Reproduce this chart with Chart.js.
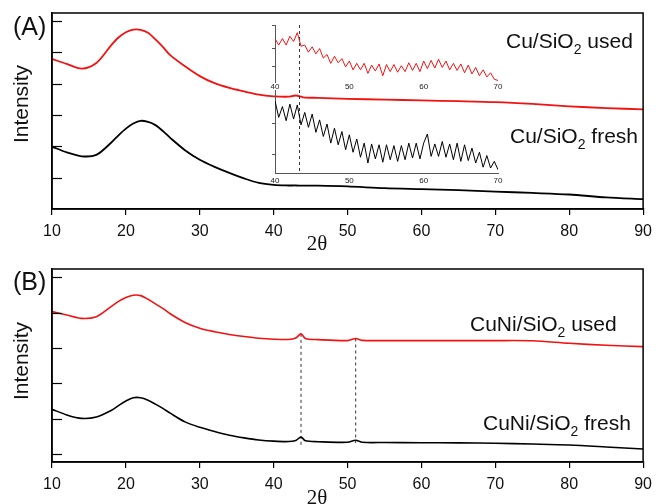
<!DOCTYPE html>
<html>
<head>
<meta charset="utf-8">
<title>XRD patterns</title>
<script src="https://cdn.jsdelivr.net/npm/chart.js@4.4.1/dist/chart.umd.min.js"></script>
<style>
  html, body { margin: 0; padding: 0; background: #fff; }
  #wrap { position: relative; width: 659px; height: 504px; overflow: hidden; }
  #wrap canvas { position: absolute; }
</style>
</head>
<body>
<div id="wrap">
  <canvas id="chart-a" width="659" height="255" style="left:0px;top:0px"></canvas>
  <canvas id="chart-b" width="659" height="249" style="left:0px;top:255px"></canvas>
  <canvas id="inset-used" width="258" height="76" style="left:250px;top:18px"></canvas>
  <canvas id="inset-fresh" width="258" height="105" style="left:250px;top:83px"></canvas>
</div>
<script>
/* ---------- data ---------- */

// (A) Cu/SiO2
const THETA_A = [10, 12, 14, 16, 18, 19, 20, 21, 22, 23, 24, 25, 26, 28, 30, 32, 34, 36, 38, 40, 42, 43, 44, 46, 50, 55, 60, 65, 70, 75, 80, 85, 90];
const CU_USED = [76.6, 74.0, 71.6, 74.5, 83.5, 87.5, 90.2, 91.5, 91.4, 89.9, 86.5, 82.7, 78.5, 72.8, 67.8, 64.2, 61.8, 60.0, 58.3, 57.5, 57.3, 57.9, 57.0, 56.7, 56.2, 55.8, 55.4, 55.0, 54.5, 53.6, 52.4, 51.5, 50.8];
const CU_FRESH = [31.8, 28.9, 26.9, 27.6, 33.8, 37.6, 41.0, 43.6, 45.0, 44.4, 42.8, 39.8, 36.3, 30.0, 25.1, 21.5, 18.4, 15.6, 13.3, 12.3, 12.0, 12.0, 11.9, 11.9, 11.5, 10.6, 10.1, 9.6, 8.9, 8.2, 7.4, 5.9, 5.0];
const Y_TICKS_A = [16, 32, 48, 64, 80, 96];

// (A) inset, 40-70 deg enlarged
const THETA_INSET = [40, 40.5, 41, 41.5, 42, 42.5, 43, 43.5, 44, 44.5, 45, 45.5, 46, 46.5, 47, 47.5, 48, 48.5, 49, 49.5,
  50, 50.5, 51, 51.5, 52, 52.5, 53, 53.5, 54, 54.5, 55, 55.5, 56, 56.5, 57, 57.5, 58, 58.5, 59, 59.5,
  60, 60.5, 61, 61.5, 62, 62.5, 63, 63.5, 64, 64.5, 65, 65.5, 66, 66.5, 67, 67.5, 68, 68.5, 69, 69.5, 70];
const INSET_USED = [77, 66, 77, 66, 81, 72, 87, 64, 66, 54, 63, 51, 60, 44, 50, 35, 47, 36, 43, 29,
  39, 24, 35, 24, 35, 18, 32, 22, 34, 14, 33, 21, 33, 20, 31, 21, 36, 23, 35, 21,
  39, 26, 40, 27, 42, 28, 39, 24, 35, 23, 34, 19, 32, 17, 28, 14, 24, 12, 19, 8, 6];
const INSET_FRESH = [87, 67, 80, 63, 83, 65, 82, 58, 73, 55, 71, 49, 64, 44, 59, 36, 54, 34, 50, 28,
  46, 25, 41, 19, 36, 12, 35, 17, 34, 13, 34, 16, 33, 14, 33, 16, 36, 18, 36, 17,
  36, 47, 20, 35, 20, 38, 19, 35, 16, 36, 14, 34, 15, 30, 12, 25, 7, 21, 6, 14, 4];
const INSET_X_TICKS = [40, 50, 60, 70];
const INSET_USED_Y_TICKS = [29, 61, 100];
const INSET_FRESH_Y_TICKS = [22, 60];
const INSET_MARK = 43.3;

// (B) CuNi/SiO2
const THETA_B = [10, 12, 14, 16, 18, 19, 20, 21, 22, 23, 24, 25, 26, 28, 30, 32, 34, 36, 38, 40, 42, 43, 43.7, 44.3, 46, 50, 51.1, 52, 55, 60, 65, 70, 75, 80, 85, 90];
const CUNI_USED = [77.9, 76.2, 74.4, 75.3, 80.5, 83.2, 85.2, 86.4, 86.2, 84.3, 81.9, 79.6, 76.8, 72.3, 69.3, 67.5, 66.1, 65.0, 64.1, 63.6, 63.5, 64.3, 66.4, 64.0, 63.4, 62.9, 64.0, 63.0, 62.9, 62.9, 62.9, 62.9, 62.8, 61.5, 60.5, 59.8];
const CUNI_FRESH = [27.3, 24.4, 22.6, 23.3, 26.7, 29.2, 31.6, 33.3, 33.3, 32.0, 30.0, 27.8, 25.3, 20.8, 18.0, 15.8, 13.9, 12.5, 11.4, 10.8, 10.6, 11.2, 12.9, 11.0, 10.5, 10.2, 11.3, 10.2, 10.1, 10.0, 9.9, 9.7, 9.3, 8.8, 7.8, 6.7];
const PEAKS_B = [43.7, 51.1];
const PEAK_TOP_B = [66.4, 64.0];
const PEAK_BOTTOM_B = [7.8, 9.8];
const Y_TICKS_B = [4.1, 22.4, 40.7, 59.0, 77.3, 95.6];

/* ---------- helpers ---------- */

const SANS = '"Liberation Sans", Arial, Helvetica, sans-serif';
const SERIF = '"Liberation Serif", "Times New Roman", serif';
const RED = 'rgb(242, 18, 18)';
const INK = '#111';

function pairs(xs, ys) {
  return xs.map((x, i) => ({ x, y: ys[i] }));
}

function curve(xs, ys, color, width) {
  return {
    data: pairs(xs, ys),
    borderColor: color,
    borderWidth: width,
    pointRadius: 0,
    tension: 0.3,
    fill: false
  };
}

function noisy(xs, ys, color) {
  return { data: pairs(xs, ys), borderColor: color, borderWidth: 1, pointRadius: 0, tension: 0, fill: false };
}

function dashed(x, top, bottom) {
  return {
    data: [{ x, y: top }, { x, y: bottom }],
    borderColor: '#333',
    borderWidth: 1,
    borderDash: [3, 3],
    pointRadius: 0,
    clip: false
  };
}

// formula with a lowered subscript, e.g. Cu/SiO2 used
function drawFormula(ctx, x, y, before, sub, after, size) {
  ctx.fillStyle = INK;
  ctx.textAlign = 'left';
  ctx.textBaseline = 'alphabetic';
  ctx.font = `${size}px ${SANS}`;
  ctx.fillText(before, x, y);
  let cx = x + ctx.measureText(before).width;
  ctx.font = `${Math.round(size * 0.66)}px ${SANS}`;
  ctx.fillText(sub, cx, y + 6);
  cx += ctx.measureText(sub).width;
  ctx.font = `${size}px ${SANS}`;
  ctx.fillText(after, cx, y);
}

// closed frame and inward intensity ticks
const framePlugin = {
  id: 'frame',
  afterDraw(chart) {
    const { ctx, chartArea: a, scales } = chart;
    ctx.save();
    ctx.strokeStyle = '#000';
    ctx.lineWidth = 1.5;
    ctx.strokeRect(a.left, a.top, a.right - a.left, a.bottom - a.top);
    ctx.lineWidth = 1.2;
    scales.y.ticks.forEach(t => {
      const py = Math.round(scales.y.getPixelForValue(t.value)) + 0.5;
      ctx.beginPath();
      ctx.moveTo(a.left, py);
      ctx.lineTo(a.left + 10, py);
      ctx.stroke();
    });
    ctx.restore();
  }
};

// panel letter, axis names and sample labels
const textPlugin = {
  id: 'panelText',
  afterDraw(chart, args, opts) {
    const ctx = chart.ctx;
    ctx.save();
    ctx.fillStyle = INK;
    ctx.textBaseline = 'alphabetic';

    ctx.font = `25px ${SANS}`;
    ctx.textAlign = 'left';
    ctx.fillText(opts.panel, 13, 35);

    ctx.save();
    ctx.translate(28, opts.yTitleAt);
    ctx.rotate(-Math.PI / 2);
    ctx.textAlign = 'center';
    ctx.font = `21px ${SANS}`;
    ctx.fillText('Intensity', 0, 0);
    ctx.restore();

    ctx.font = `21px ${SERIF}`;
    ctx.textAlign = 'center';
    ctx.fillText('2θ', 317, opts.xTitleAt);

    opts.samples.forEach(s => drawFormula(ctx, s.x, s.y, s.before, '2', s.after, 21));
    ctx.restore();
  }
};

function mainOptions(yTicks, chartBottom, canvasH, padTop, text) {
  return {
    responsive: false,
    animation: false,
    devicePixelRatio: 1,
    layout: { padding: { top: padTop, right: 12, left: 0, bottom: 0 } },
    plugins: { legend: { display: false }, tooltip: { enabled: false }, panelText: text },
    scales: {
      x: {
        type: 'linear',
        min: 10,
        max: 90,
        border: { display: true, color: '#000', width: 1.5 },
        grid: { display: true, drawOnChartArea: false, drawTicks: true, tickLength: 6, color: '#000', lineWidth: 1.2 },
        ticks: { stepSize: 10, autoSkip: false, maxRotation: 0, padding: 7, color: INK, font: { family: SANS, size: 16 } },
        afterFit: s => { s.height = canvasH - chartBottom; }
      },
      y: {
        min: 0,
        max: 100,
        border: { display: true, color: '#000', width: 1.5 },
        grid: { display: false },
        ticks: { display: false },
        afterBuildTicks: s => { s.ticks = yTicks.map(v => ({ value: v })); },
        afterFit: s => { s.width = 52; }
      }
    }
  };
}

function insetOptions(yMin, yMax, yTicks, padTop, xAxisH, showXLine, labelPad) {
  return {
    responsive: false,
    animation: false,
    devicePixelRatio: 1,
    layout: { padding: { top: padTop, right: 10, left: 0, bottom: 0 } },
    plugins: { legend: { display: false }, tooltip: { enabled: false } },
    scales: {
      x: {
        type: 'linear',
        min: 40,
        max: 70,
        border: { display: showXLine, color: '#555', width: 1 },
        grid: { display: false, drawTicks: false },
        afterBuildTicks: s => { s.ticks = INSET_X_TICKS.map(v => ({ value: v })); },
        ticks: { autoSkip: false, maxRotation: 0, padding: labelPad, color: '#222', font: { family: SANS, size: 8 } },
        afterFit: s => { s.height = xAxisH; }
      },
      y: {
        min: yMin,
        max: yMax,
        border: { display: true, color: '#555', width: 1 },
        grid: { display: true, drawOnChartArea: false, tickLength: 3, color: '#555' },
        ticks: { display: false },
        afterBuildTicks: s => { s.ticks = yTicks.map(v => ({ value: v })); },
        afterFit: s => { s.width = 25; }
      }
    }
  };
}

/* ---------- charts ---------- */

new Chart(document.getElementById('chart-a'), {
  type: 'line',
  data: {
    datasets: [
      curve(THETA_A, CU_USED, RED, 1.8),
      curve(THETA_A, CU_FRESH, '#000', 1.8)
    ]
  },
  options: mainOptions(Y_TICKS_A, 209, 255, 13, {
    panel: '(A)',
    yTitleAt: 104,
    xTitleAt: 250,
    samples: [
      { before: 'Cu/SiO', after: ' used', x: 506, y: 48 },
      { before: 'Cu/SiO', after: ' fresh', x: 510, y: 143 }
    ]
  }),
  plugins: [framePlugin, textPlugin]
});

new Chart(document.getElementById('chart-b'), {
  type: 'line',
  data: {
    datasets: [
      curve(THETA_B, CUNI_USED, RED, 1.6),
      curve(THETA_B, CUNI_FRESH, '#000', 1.6),
      ...PEAKS_B.map((p, i) => dashed(p, PEAK_TOP_B[i], PEAK_BOTTOM_B[i]))
    ]
  },
  options: mainOptions(Y_TICKS_B, 207, 249, 14, {
    panel: '(B)',
    yTitleAt: 106,
    xTitleAt: 249,
    samples: [
      { before: 'CuNi/SiO', after: ' used', x: 470, y: 76 },
      { before: 'CuNi/SiO', after: ' fresh', x: 483, y: 175 }
    ]
  }),
  plugins: [framePlugin, textPlugin]
});

new Chart(document.getElementById('inset-used'), {
  type: 'line',
  data: {
    datasets: [
      noisy(THETA_INSET, INSET_USED, RED),
      dashed(INSET_MARK, 100, -10)
    ]
  },
  options: insetOptions(3.4, 100, INSET_USED_Y_TICKS, 7, 12, false, 0)
});

new Chart(document.getElementById('inset-fresh'), {
  type: 'line',
  data: {
    datasets: [
      noisy(THETA_INSET, INSET_FRESH, '#000'),
      dashed(INSET_MARK, 100, 0)
    ]
  },
  options: insetOptions(0, 100, INSET_FRESH_Y_TICKS, 7, 15, true, 3)
});
</script>
</body>
</html>
